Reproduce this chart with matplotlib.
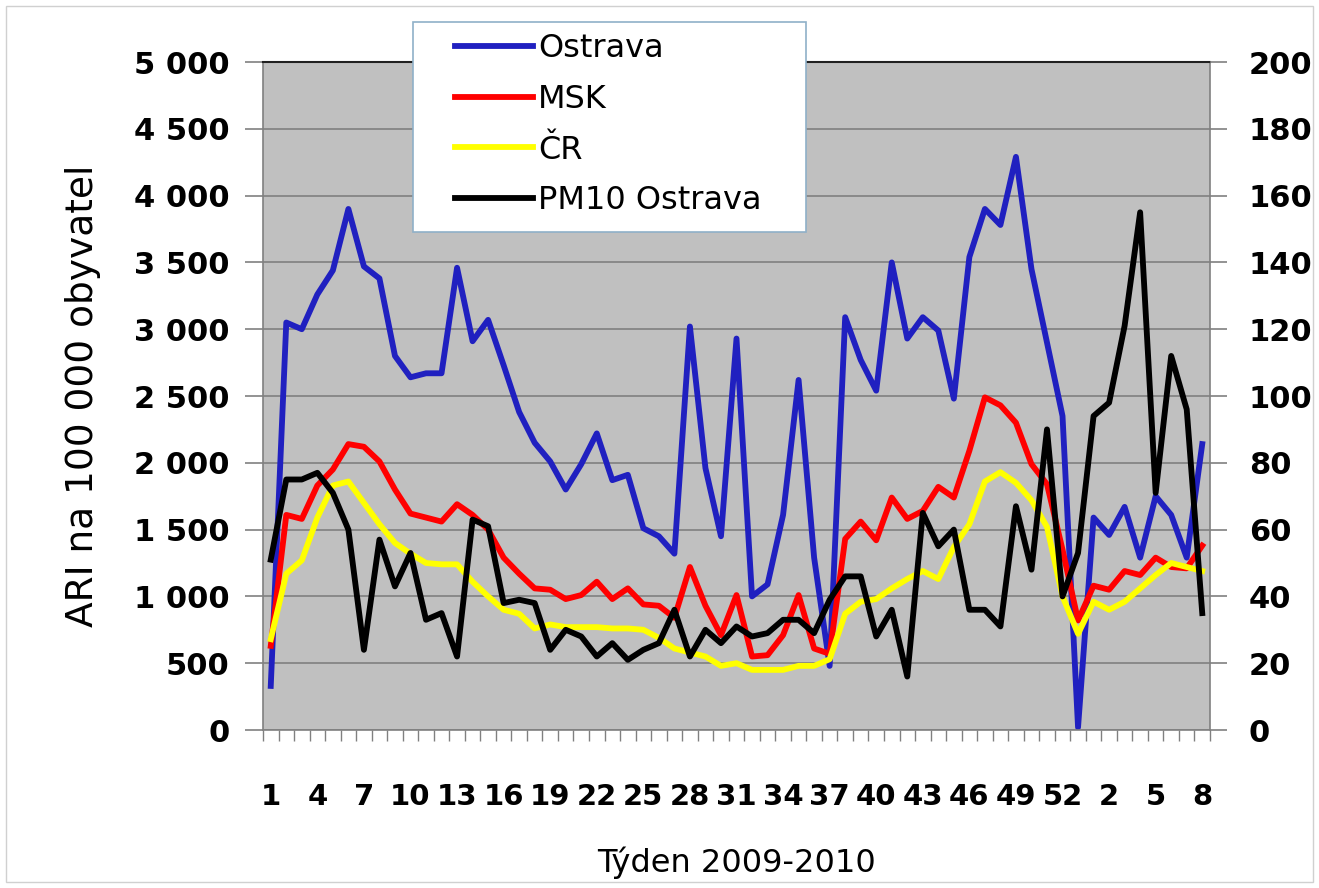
import matplotlib
matplotlib.use("Agg")
import matplotlib.pyplot as plt
import matplotlib.patches as patches
import numpy as np

plt.rcParams['font.family'] = ['DejaVu Sans']

# weeks 2009 (1..53) followed by weeks 2010 (1..8)
weeks = list(range(1, 54)) + list(range(1, 9))

ostrava = [330, 3050, 3000, 3260, 3440, 3900, 3470, 3380, 2800, 2640, 2670, 2670,
           3460, 2910, 3070, 2730, 2380, 2150, 2010, 1800, 1990, 2220, 1870, 1910, 1510,
           1450, 1320, 3020, 1960, 1450, 2930, 1000, 1090, 1610, 2620, 1290, 480,
           3090, 2770, 2540, 3500, 2930, 3090, 2990, 2480, 3540, 3900, 3780, 4290,
           3450, 2900, 2350, 20, 1590, 1460, 1670, 1290, 1750, 1610, 1290, 2140]
msk = [630, 1610, 1580, 1830, 1950, 2140, 2120, 2010, 1800, 1620, 1590, 1560,
       1690, 1610, 1500, 1290, 1170, 1060, 1050, 980, 1010, 1110, 980, 1060, 940,
       930, 840, 1220, 930, 710, 1010, 550, 560, 710, 1010, 610, 570,
       1430, 1560, 1420, 1740, 1580, 1640, 1820, 1740, 2090, 2490, 2430, 2300,
       1990, 1840, 1350, 820, 1080, 1050, 1190, 1160, 1290, 1220, 1210, 1380]
cr = [680, 1170, 1270, 1590, 1830, 1860, 1700, 1540, 1400, 1320, 1250, 1240,
      1240, 1110, 1000, 900, 870, 760, 790, 770, 770, 770, 760, 760, 750,
      690, 610, 580, 550, 480, 500, 450, 450, 450, 480, 480, 530,
      870, 960, 980, 1060, 1130, 1190, 1130, 1370, 1540, 1860, 1930, 1850,
      1720, 1520, 1000, 720, 960, 900, 960, 1060, 1160, 1250, 1220, 1190]
pm10 = [51, 75, 75, 77, 71, 60, 24, 57, 43, 53, 33, 35,
        22, 63, 61, 38, 39, 38, 24, 30, 28, 22, 26, 21, 24,
        26, 36, 22, 30, 26, 31, 28, 29, 33, 33, 29, 39,
        46, 46, 28, 36, 16, 65, 55, 60, 36, 36, 31, 67,
        48, 90, 40, 53, 94, 98, 121, 155, 71, 112, 96, 35]

W, H = 1319, 888
fig = plt.figure(figsize=(W / 100, H / 100), dpi=100)
fig.patch.set_facecolor("white")
fig.add_artist(patches.Rectangle((6 / W, 6 / H), 1 - 12 / W, 1 - 12 / H,
                                 transform=fig.transFigure, fill=False,
                                 edgecolor="#d0d0d0", linewidth=1))

ax = fig.add_axes([263 / W, 1 - 730 / H, (1210 - 263) / W, (730 - 62) / H])
ax.set_facecolor("#c0c0c0")
x = np.arange(len(weeks))
lw = 4.2

l1, = ax.plot(x, ostrava, color="#2020c0", lw=lw, label="Ostrava")
l2, = ax.plot(x, msk, color="#ff0000", lw=lw, label="MSK")
l3, = ax.plot(x, cr, color="#ffff00", lw=lw, label="ČR")

ax.set_xlim(-0.5, len(weeks) - 0.5)
ax.set_ylim(0, 5000)
yt = list(range(0, 5001, 500))
ax.set_yticks(yt)
ax.set_yticklabels([f"{v:,}".replace(",", " ") for v in yt], fontsize=22, fontweight="bold")
ax.grid(axis="y", color="#808080", lw=1.2)
ax.set_axisbelow(True)

ax.set_xticks(x[::3])
ax.set_xticklabels([str(weeks[i]) for i in x[::3]], fontsize=21, fontweight="bold")
ax.set_xticks(np.arange(-0.5, len(weeks)), minor=True)
ax.tick_params(axis="x", which="major", length=0, pad=38)
ax.tick_params(axis="x", which="minor", length=8, color="#808080", width=1, direction="out")
ax.tick_params(axis="y", length=13, color="#808080", width=1.2, pad=11)

for s in ["left", "bottom", "right"]:
    ax.spines[s].set_color("#808080")
    ax.spines[s].set_linewidth(1.2)
ax.spines["top"].set_color("#202020")
ax.spines["top"].set_linewidth(1.5)

ax2 = ax.twinx()
l4, = ax2.plot(x, pm10, color="black", lw=lw, label="PM10 Ostrava")
ax2.set_ylim(0, 200)
rt = list(range(0, 201, 20))
ax2.set_yticks(rt)
ax2.set_yticklabels([str(v) for v in rt], fontsize=22, fontweight="bold")
ax2.tick_params(axis="y", length=12, color="#808080", width=1.2, pad=16)
for s in ax2.spines.values():
    s.set_visible(False)

ax.set_ylabel("ARI na 100 000 obyvatel", fontsize=27, labelpad=24)
ax.set_xlabel("Týden 2009-2010", fontsize=23, labelpad=26)

# legend box (frame drawn separately to match the original padding)
fig.add_artist(patches.Rectangle((413 / W, 1 - 232 / H), (806 - 413) / W, (232 - 22) / H,
                                 transform=fig.transFigure, facecolor="white",
                                 edgecolor="#8fb0c8", linewidth=1.2, zorder=5))
leg = fig.legend([l1, l2, l3, l4], ["Ostrava", "MSK", "ČR", "PM10 Ostrava"],
                 loc="upper left", bbox_to_anchor=(455 / W, 1 - 33 / H),
                 bbox_transform=fig.transFigure, fontsize=23, frameon=False,
                 handlelength=2.45, handletextpad=0.15, labelspacing=0.62,
                 borderpad=0, borderaxespad=0)
leg.set_zorder(6)

fig.savefig("out.png", dpi=100)
